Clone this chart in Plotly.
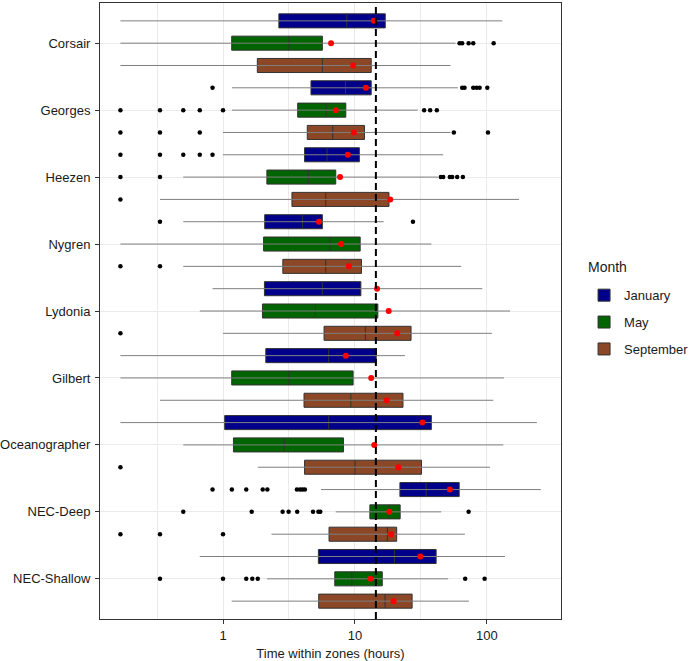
import plotly.graph_objects as go

# --------------------------------------------------------------
# Data (hours)
# --------------------------------------------------------------

canyons = ["Corsair", "Georges", "Heezen", "Nygren", "Lydonia", "Gilbert",
           "Oceanographer", "NEC-Deep", "NEC-Shallow"]
months = ["January", "May", "September"]
colors = {"January": "#00008B", "May": "#006400", "September": "#8B4726"}

threshold = 14.4

jan_lower = [0.167, 1.17, 1.0, 0.5, 0.833, 0.167, 0.167, 5.53, 0.667]
jan_q1 = [2.65, 4.64, 4.15, 2.07, 2.06, 2.11, 1.03, 21.9, 5.28]
jan_median = [8.67, 8.47, 6.14, 4.01, 5.66, 6.32, 6.32, 34.6, 19.9]
jan_q3 = [16.96, 13.27, 10.8, 5.66, 11.08, 14.5, 37.9, 61.6, 41.2]
jan_upper = [130.8, 60.2, 46.6, 16.5, 92.1, 23.9, 238.6, 256, 137]
jan_mean = [13.9, 12.09, 8.82, 5.34, 14.7, 8.52, 32.4, 52.3, 31.3]
jan_outliers = [
    [],
    [0.833, 64.9, 67.6, 78.7, 83.4, 88, 100.6],
    [0.167, 0.333, 0.5, 0.667, 0.833],
    [0.333, 27.5],
    [],
    [],
    [],
    [0.833, 1.167, 1.5, 2.0, 2.167, 3.63, 3.83, 4.0, 4.17],
    [],
]

may_lower = [0.167, 1.17, 0.5, 0.167, 0.667, 0.167, 0.5, 7.15, 2.16]
may_q1 = [1.164, 3.68, 2.15, 2.03, 1.99, 1.164, 1.20, 12.97, 7.03]
may_median = [3.16, 6.04, 4.43, 6.48, 5.01, 3.16, 2.91, 18.1, 9.46]
may_q3 = [5.66, 8.52, 7.15, 10.95, 14.9, 9.68, 8.18, 22.0, 16.1]
may_upper = [57.8, 29.9, 42.4, 37.9, 149.6, 134.7, 133, 45.0, 50.8]
may_mean = [6.59, 7.15, 7.71, 7.85, 18.0, 13.27, 14.0, 18.2, 13.1]
may_outliers = [
    [62, 64.9, 72.6, 78.7, 112.4],
    [0.167, 0.333, 0.5, 0.667, 1.0, 33.4, 37.1, 41.7],
    [0.167, 0.333, 44.7, 46.6, 52.3, 54.5, 59.5, 65.7],
    [],
    [],
    [],
    [],
    [0.5, 1.65, 2.83, 3.14, 3.65, 4.81, 5.28, 5.46, 72.6],
    [0.333, 1.0, 1.5, 1.667, 1.833, 68.4, 96],
]

sep_lower = [0.167, 1.0, 0.333, 0.5, 1.0, 0.333, 1.835, 2.33, 1.164]
sep_q1 = [1.82, 4.35, 3.33, 2.84, 5.83, 4.11, 4.15, 6.36, 5.31]
sep_median = [5.66, 6.78, 6.0, 6.0, 12.0, 9.3, 10.0, 17.6, 16.9]
sep_q3 = [13.27, 11.8, 18.1, 11.2, 26.6, 23.1, 31.9, 20.7, 27.1]
sep_upper = [52.9, 52.9, 175, 63.8, 109, 111.7, 105.4, 68, 73]
sep_mean = [9.68, 9.8, 18.5, 8.98, 20.9, 17.4, 21.3, 18.8, 19.6]
sep_outliers = [
    [],
    [0.167, 0.333, 0.667, 56.1, 101.8],
    [0.167],
    [0.167, 0.333],
    [0.167],
    [],
    [0.167],
    [0.167, 0.333, 1.0],
    [],
]

stats = {
    "January": (jan_lower, jan_q1, jan_median, jan_q3, jan_upper, jan_mean, jan_outliers),
    "May": (may_lower, may_q1, may_median, may_q3, may_upper, may_mean, may_outliers),
    "September": (sep_lower, sep_q1, sep_median, sep_q3, sep_upper, sep_mean, sep_outliers),
}

# --------------------------------------------------------------
# Build figure
# --------------------------------------------------------------

positions = list(range(1, len(canyons) + 1))
offsets = {"January": -1 / 3, "May": 0.0, "September": 1 / 3}

fig = go.Figure()

# whiskers first so the boxes sit on top
for month in months:
    lower, q1, median, q3, upper, mean, outl = stats[month]
    wx, wy = [], []
    for i, p in enumerate(positions):
        y = p + offsets[month]
        wx += [lower[i], upper[i], None]
        wy += [y, y, None]
    fig.add_trace(go.Scatter(x=wx, y=wy, mode="lines",
                             line=dict(color="#7f7f7f", width=1),
                             legendgroup=month, showlegend=False, hoverinfo="skip"))

for month in months:
    lower, q1, median, q3, upper, mean, outl = stats[month]
    ys = [p + offsets[month] for p in positions]
    fig.add_trace(go.Box(
        y=ys, q1=q1, median=median, q3=q3, lowerfence=q1, upperfence=q3,
        orientation="h", name=month, legendgroup=month,
        width=0.21, whiskerwidth=0, boxpoints=False,
        fillcolor=colors[month], line=dict(color="#333333", width=1),
    ))

fig.add_shape(type="line", xref="x", yref="paper", x0=threshold, x1=threshold,
              y0=0, y1=1, line=dict(color="black", width=2, dash="7px,4px"),
              layer="above")

for month in months:
    lower, q1, median, q3, upper, mean, outl = stats[month]
    ox, oy = [], []
    for i, p in enumerate(positions):
        for v in outl[i]:
            ox.append(v)
            oy.append(p + offsets[month])
    fig.add_trace(go.Scatter(x=ox, y=oy, mode="markers",
                             marker=dict(color="black", size=4.5),
                             legendgroup=month, showlegend=False, hoverinfo="skip"))
    fig.add_trace(go.Scatter(x=mean, y=[p + offsets[month] for p in positions],
                             mode="markers", marker=dict(color="red", size=6),
                             legendgroup=month, showlegend=False, hoverinfo="skip"))

fig.update_layout(
    width=689, height=661, autosize=False,
    margin=dict(l=100, r=128, t=3, b=42, autoexpand=False),
    plot_bgcolor="white", paper_bgcolor="white",
    font=dict(family="Liberation Sans, Arial, sans-serif", size=13, color="#1a1a1a"),
    legend=dict(x=1.05, y=0.55, xanchor="left", yanchor="top",
                tracegroupgap=7, font=dict(size=13)),
    annotations=[dict(text="Month", xref="paper", yref="paper", x=1.055, y=0.571,
                      xanchor="left", yanchor="middle", showarrow=False,
                      font=dict(size=14))],
)

fig.update_xaxes(
    type="log", range=[-0.932, 2.561],
    tickvals=[1, 10, 100], ticktext=["1", "10", "100"],
    ticks="outside", ticklen=4, tickcolor="#333333",
    showgrid=True, gridcolor="#ebebeb", gridwidth=1.2,
    minor=dict(tickvals=[0.3162, 3.162, 31.62], showgrid=True,
               gridcolor="#ebebeb", gridwidth=0.8, ticks=""),
    showline=True, linecolor="#333333", linewidth=1, mirror=True,
    zeroline=False, automargin=False,
    title=dict(text="Time within zones (hours)", font=dict(size=13), standoff=7),
)

fig.update_yaxes(
    range=[len(canyons) + 0.6, 0.4],
    tickvals=positions, ticktext=canyons,
    ticks="outside", ticklen=4, tickcolor="#333333", ticklabelstandoff=2,
    showgrid=True, gridcolor="#ebebeb", gridwidth=1.2,
    showline=True, linecolor="#333333", linewidth=1, mirror=True,
    zeroline=False, automargin=False,
)

# drop the page's default body margin so the figure sits at the window's corner
fig.write_html("out.html", config={"displayModeBar": False},
               post_script="document.body.style.margin='0';")
